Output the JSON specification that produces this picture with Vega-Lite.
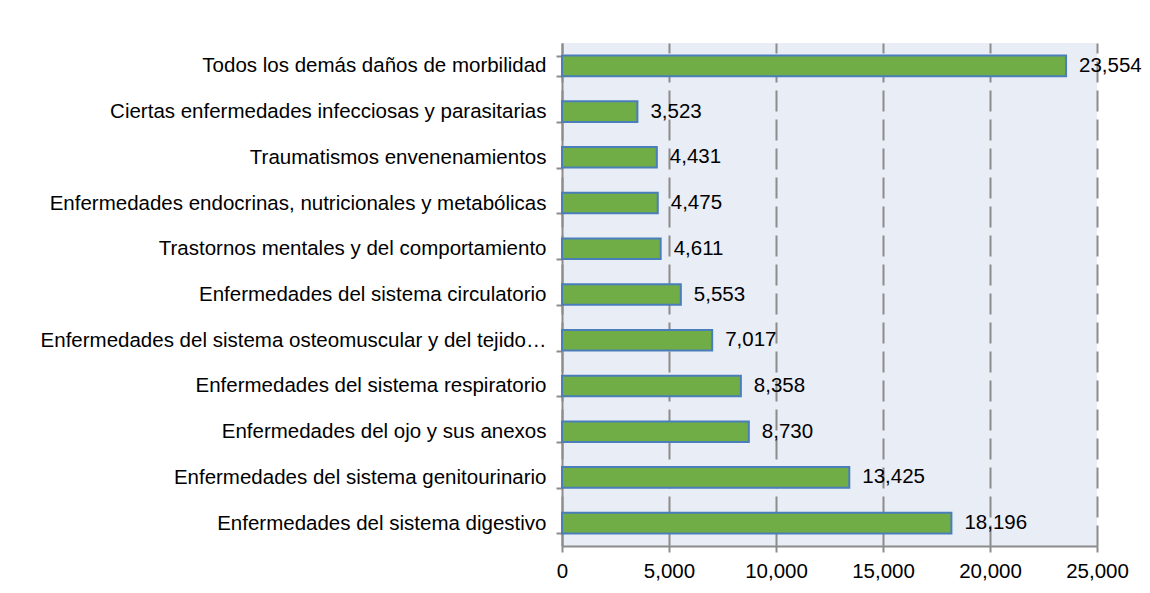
{
  "$schema": "https://vega.github.io/schema/vega-lite/v6.json",
  "autosize": {"type": "none"},
  "width": 535,
  "height": 503,
  "padding": {"left": 562, "top": 43, "right": 53, "bottom": 47},
  "background": "white",
  "config": {
    "view": {"fill": "#E9EDF5", "stroke": null},
    "font": "Liberation Sans"
  },
  "data": {
    "values": [
      {"causa": "Todos los demás daños de morbilidad", "casos": 23554},
      {"causa": "Ciertas enfermedades infecciosas y parasitarias", "casos": 3523},
      {"causa": "Traumatismos envenenamientos", "casos": 4431},
      {"causa": "Enfermedades endocrinas, nutricionales y metabólicas", "casos": 4475},
      {"causa": "Trastornos mentales y del comportamiento", "casos": 4611},
      {"causa": "Enfermedades del sistema circulatorio", "casos": 5553},
      {"causa": "Enfermedades del sistema osteomuscular y del tejido conjuntivo", "casos": 7017},
      {"causa": "Enfermedades del sistema respiratorio", "casos": 8358},
      {"causa": "Enfermedades del ojo y sus anexos", "casos": 8730},
      {"causa": "Enfermedades del sistema genitourinario", "casos": 13425},
      {"causa": "Enfermedades del sistema digestivo", "casos": 18196}
    ]
  },
  "encoding": {
    "y": {
      "field": "causa", "type": "nominal", "sort": null, "title": null,
      "scale": {"paddingInner": 0.55, "paddingOuter": 0.275},
      "axis": {
        "tickBand": "extent", "tickSize": 6, "tickColor": "#8c8c8c", "tickWidth": 2,
        "domainColor": "#8c8c8c", "domainWidth": 2,
        "labelFontSize": 20.5, "labelColor": "black", "labelPadding": 10,
        "labelLimit": 508, "grid": false
      }
    },
    "x": {
      "field": "casos", "type": "quantitative", "title": null,
      "scale": {"domain": [0, 25000], "nice": false},
      "axis": {
        "values": [0, 5000, 10000, 15000, 20000, 25000], "format": ",d",
        "grid": true, "gridColor": "#8c8c8c", "gridWidth": 2, "gridDash": [21, 8], "gridOpacity": 1,
        "tickSize": 6, "tickColor": "#8c8c8c", "tickWidth": 2,
        "domainColor": "#8c8c8c", "domainWidth": 2,
        "labelFlush": false, "labelOverlap": false, "labelBound": false,
        "labelFontSize": 20.5, "labelColor": "black", "labelPadding": 9
      }
    }
  },
  "layer": [
    {
      "mark": {"type": "bar", "fill": "#70AD47", "stroke": "#4A7EBB", "strokeWidth": 2}
    },
    {
      "mark": {"type": "text", "align": "left", "baseline": "middle", "dx": 13, "fontSize": 20.5, "color": "black"},
      "encoding": {"text": {"field": "casos", "type": "quantitative", "format": ",d"}}
    }
  ]
}
